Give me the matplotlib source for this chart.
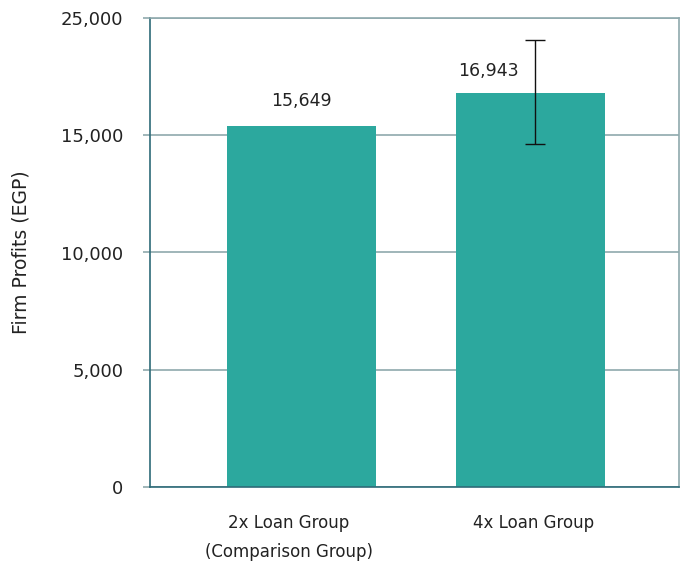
import numpy as np
import matplotlib.pyplot as plt

# Data
groups = ['2x Loan Group\n(Comparison Group)', '4x Loan Group']
bar_heights = [15400, 16800]
value_labels = ['15,649', '16,943']
err_low = [None, 14640]
err_high = [None, 19050]
tick_values = [0, 5000, 10000, 15000, 20000]
tick_labels = ['0', '5,000', '10,000', '15,000', '25,000']

teal = '#2ca89e'
grid_col = '#8fa9ad'
spine_col = '#2e6b78'
text_col = '#222222'

plt.rcParams['font.family'] = ['DejaVu Sans']

fig = plt.figure(figsize=(6.86, 5.63), dpi=100)
ax = fig.add_axes([150/686, 76/563, 529/686, 469/563])

x = np.arange(len(groups))
ax.bar(x, bar_heights, width=0.65, color=teal, zorder=2)

# error bar on the 4x group (drawn slightly right of bar centre, as in the source)
ax.errorbar(x[1] + 0.022, (err_low[1] + err_high[1]) / 2,
            yerr=(err_high[1] - err_low[1]) / 2,
            fmt='none', ecolor='#111111', elinewidth=1, capsize=7, capthick=1, zorder=3)

# value labels
ax.text(x[0], bar_heights[0] + 680, value_labels[0], ha='center', va='bottom',
        fontsize=12.5, color=text_col)
ax.text(x[1] - 0.18, bar_heights[1] + 550, value_labels[1], ha='center', va='bottom',
        fontsize=12.5, color=text_col)

ax.set_xlim(-0.66, 1.65)
ax.set_ylim(0, 20000)
ax.set_yticks(tick_values)
ax.set_yticklabels(tick_labels)
# category labels sit a little off the bar centres in the source
ax.set_xticks(x + np.array([-0.055, 0.013]))
ax.set_xticklabels(groups, linespacing=1.75)

ax.yaxis.grid(True, color=grid_col, linewidth=1.2, zorder=0)
ax.set_axisbelow(True)

ax.tick_params(axis='y', length=5, width=1.2, color=grid_col, pad=14,
               labelsize=13, labelcolor=text_col)
ax.tick_params(axis='x', length=0, pad=19.5, labelsize=12, labelcolor=text_col)

ax.spines['left'].set_color(spine_col)
ax.spines['bottom'].set_color(spine_col)
ax.spines['top'].set_color(grid_col)
ax.spines['right'].set_color(grid_col)
for s in ax.spines.values():
    s.set_linewidth(1.2)

ax.set_ylabel('Firm Profits (EGP)', fontsize=13.5, color=text_col)
ax.yaxis.set_label_coords(-0.225, 0.5)

plt.savefig('out.png', dpi=100)
